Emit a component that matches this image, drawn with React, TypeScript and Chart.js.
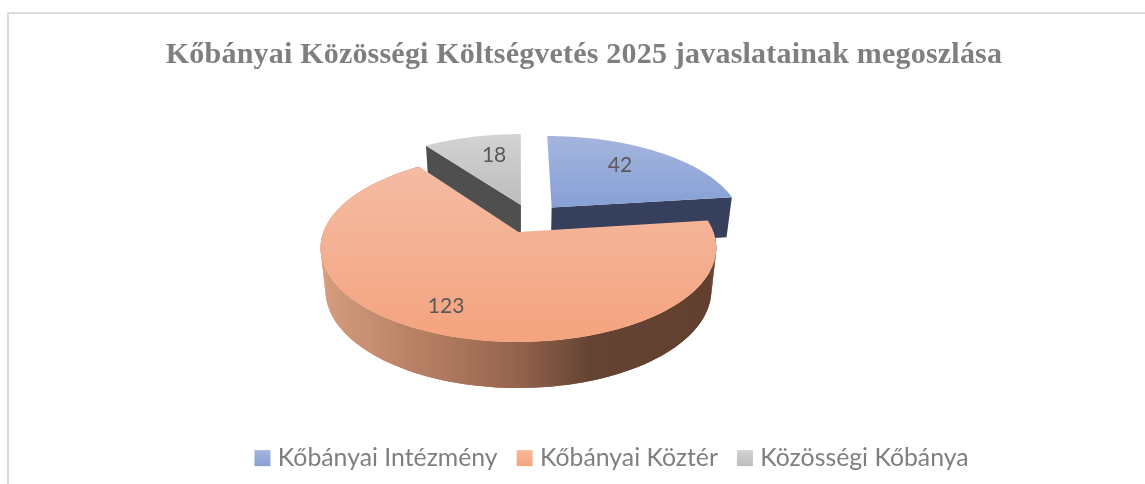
import React, { useEffect, useRef } from "react";
import { Chart, registerables } from "chart.js";

Chart.register(...registerables);

const titleText = "Kőbányai Közösségi Költségvetés 2025 javaslatainak megoszlása";
const categories = ["Kőbányai Intézmény", "Kőbányai Köztér", "Közösségi Kőbánya"];
const values = [42, 123, 18];

// Projection of the pie disc: perspective view from above.
const CX = 520, CY = 232, RX = 195, RY = 91.3, K = 0.17;
const FX = 0.975, FY = 1.04, DROP = 41.6;
// Per-slice explosion and label anchor, in disc units.
const explode = [[0.17, -0.28], [-0.008, 0], [0.005, -0.312]];
const labelAnchor = [[0.586, -0.8386], [-0.333, 0.712], [-0.155, -0.984]];
const topStops = [["#a5b5dd", "#86a0d6", 135, 208], ["#f4bca4", "#f4a37e", 165, 342], ["#d3d3d3", "#bcbcbc", 133, 205]];
const wallColors = ["#363f5c", "#62402f", "#4f4f4f"];
const legendStops = [["#a5b5dd", "#86a0d6"], ["#f9b999", "#f4a37e"], ["#d3d3d3", "#bcbcbc"]];
const SWATCH = 16;

function project(u: number, v: number, low: boolean): [number, number] {
  const s = 1 / (1 - K * v);
  const x = RX * u * s;
  const y = RY * v * s;
  return low ? [CX + x * FX, CY + y * FY + DROP] : [CX + x, CY + y];
}

function rim(a0: number, a1: number, u0: number, v0: number, low: boolean) {
  const pts: [number, number][] = [];
  const n = 120;
  for (let i = 0; i <= n; i++) {
    const a = a0 + ((a1 - a0) * i) / n;
    pts.push(project(u0 + Math.cos(a), v0 + Math.sin(a), low));
  }
  return pts;
}

function fillPoly(ctx: CanvasRenderingContext2D, pts: [number, number][], fill: any) {
  ctx.beginPath();
  pts.forEach((p, i) => (i ? ctx.lineTo(p[0], p[1]) : ctx.moveTo(p[0], p[1])));
  ctx.closePath();
  ctx.fillStyle = fill;
  ctx.fill();
}

const framePlugin = {
  id: "frame",
  beforeDraw(chart: any) {
    const { ctx } = chart;
    ctx.save();
    ctx.fillStyle = "#ffffff";
    ctx.fillRect(0, 0, chart.width, chart.height);
    ctx.fillStyle = "#dcdcdc";
    ctx.fillRect(7, 12, chart.width - 7, 2);
    ctx.fillRect(7, 12, 2, chart.height - 12);
    ctx.restore();
  },
};

const pie3dPlugin = {
  id: "pie3d",
  afterLayout(chart: any) {
    chart.legend.left += 39;
    chart.legend.right += 39;
    const tb = chart.titleBlock;
    tb.left += 11.5;
    tb.right += 11.5;
    if (!tb.__spaced) {
      tb.__spaced = true;
      const orig = tb.draw.bind(tb);
      tb.draw = (...args: any[]) => {
        const c = chart.ctx;
        c.letterSpacing = "0.2px";
        orig(...args);
        c.letterSpacing = "0px";
      };
    }
  },
  beforeDatasetsDraw(chart: any) {
    const { ctx } = chart;
    const arcs = chart.getDatasetMeta(0).data;
    const sector = (i: number) => {
      const { startAngle, endAngle } = arcs[i];
      const [u0, v0] = explode[i];
      return { a0: startAngle, a1: endAngle, u0, v0 };
    };
    const topFill = (i: number) => {
      const [c0, c1, y0, y1] = topStops[i] as any;
      const g = ctx.createLinearGradient(0, y0, 0, y1);
      g.addColorStop(0, c0);
      g.addColorStop(1, c1);
      return g;
    };
    const drawTop = (i: number) => {
      const { a0, a1, u0, v0 } = sector(i);
      fillPoly(ctx, [project(u0, v0, false), ...rim(a0, a1, u0, v0, false)], topFill(i));
    };
    const drawRadialWall = (i: number, a: number) => {
      const { u0, v0 } = sector(i);
      const ou = u0 + Math.cos(a), ov = v0 + Math.sin(a);
      fillPoly(ctx, [project(u0, v0, false), project(ou, ov, false), project(ou, ov, true), project(u0, v0, true)], wallColors[i]);
    };

    ctx.save();
    // gray slice, back
    drawRadialWall(2, sector(2).a0);
    drawTop(2);
    // blue slice, back
    drawRadialWall(0, sector(0).a1);
    drawTop(0);
    // orange slice, front: rim wall body, quads for the silhouette, then top
    const o = sector(1);
    const g = ctx.createLinearGradient(322, 0, 716, 0);
    g.addColorStop(0, "#d59c7f");
    g.addColorStop(0.3, "#b07a5f");
    g.addColorStop(0.5, "#94634c");
    g.addColorStop(0.68, "#654334");
    g.addColorStop(1, "#623f2e");
    const up = rim(o.a0, o.a1, o.u0, o.v0, false);
    const dn = rim(o.a0, o.a1, o.u0, o.v0, true);
    fillPoly(ctx, [...up, ...dn.slice().reverse()], g);
    for (let i = 0; i < up.length - 1; i++) {
      fillPoly(ctx, [up[i], up[i + 1], dn[i + 1], dn[i]], g);
    }
    drawTop(1);

    // value labels
    ctx.font = "21px Lato";
    ctx.fillStyle = "#595959";
    ctx.textAlign = "center";
    ctx.textBaseline = "middle";
    values.forEach((val, i) => {
      const [u, v] = labelAnchor[i];
      const [x, y] = project(u, v, false);
      ctx.fillText(String(val), x, y);
    });

    // legend swatches, placed on the library's legend hit boxes
    chart.legend.legendHitBoxes.forEach((b: any, i: number) => {
      const top = b.top + b.height / 2 - SWATCH / 2;
      const sw = ctx.createLinearGradient(0, top, 0, top + SWATCH);
      sw.addColorStop(0, legendStops[i][0]);
      sw.addColorStop(1, legendStops[i][1]);
      ctx.fillStyle = sw;
      ctx.fillRect(b.left, top, SWATCH, SWATCH);
    });
    ctx.restore();
    return false;
  },
};

export default function App() {
  const ref = useRef<HTMLCanvasElement>(null);
  useEffect(() => {
    const chart = new Chart(ref.current!, {
      type: "pie",
      data: {
        labels: categories,
        datasets: [{ data: values, backgroundColor: ["#86a0d6", "#f4a37e", "#bcbcbc"], borderWidth: 0 }],
      },
      plugins: [framePlugin, pie3dPlugin],
      options: {
        responsive: false,
        animation: false,
        devicePixelRatio: 1,
        layout: { padding: { top: 0, bottom: 3.5 } },
        plugins: {
          tooltip: { enabled: false },
          title: {
            display: true,
            text: titleText,
            color: "#7f7f7f",
            font: { family: "'Liberation Serif'", size: 30, weight: "bold" },
            padding: { top: 37, bottom: 20 },
          },
          legend: {
            display: true,
            position: "bottom",
            labels: {
              color: "#7f7f7f",
              font: { family: "Lato", size: 24.8 },
              boxWidth: 11,
              boxHeight: 16,
              padding: 19,
              generateLabels: () =>
                categories.map((text, i) => ({
                  text,
                  fillStyle: "transparent",
                  strokeStyle: "transparent",
                  lineWidth: 0,
                  fontColor: "#7f7f7f",
                  index: i,
                })),
            },
          },
        },
      } as any,
    });
    return () => chart.destroy();
  }, []);
  return (
    <div style={{ position: "fixed", left: 0, top: 0, width: 1145, height: 484 }}>
      <canvas ref={ref} width={1145} height={484} style={{ display: "block" }} />
    </div>
  );
}
